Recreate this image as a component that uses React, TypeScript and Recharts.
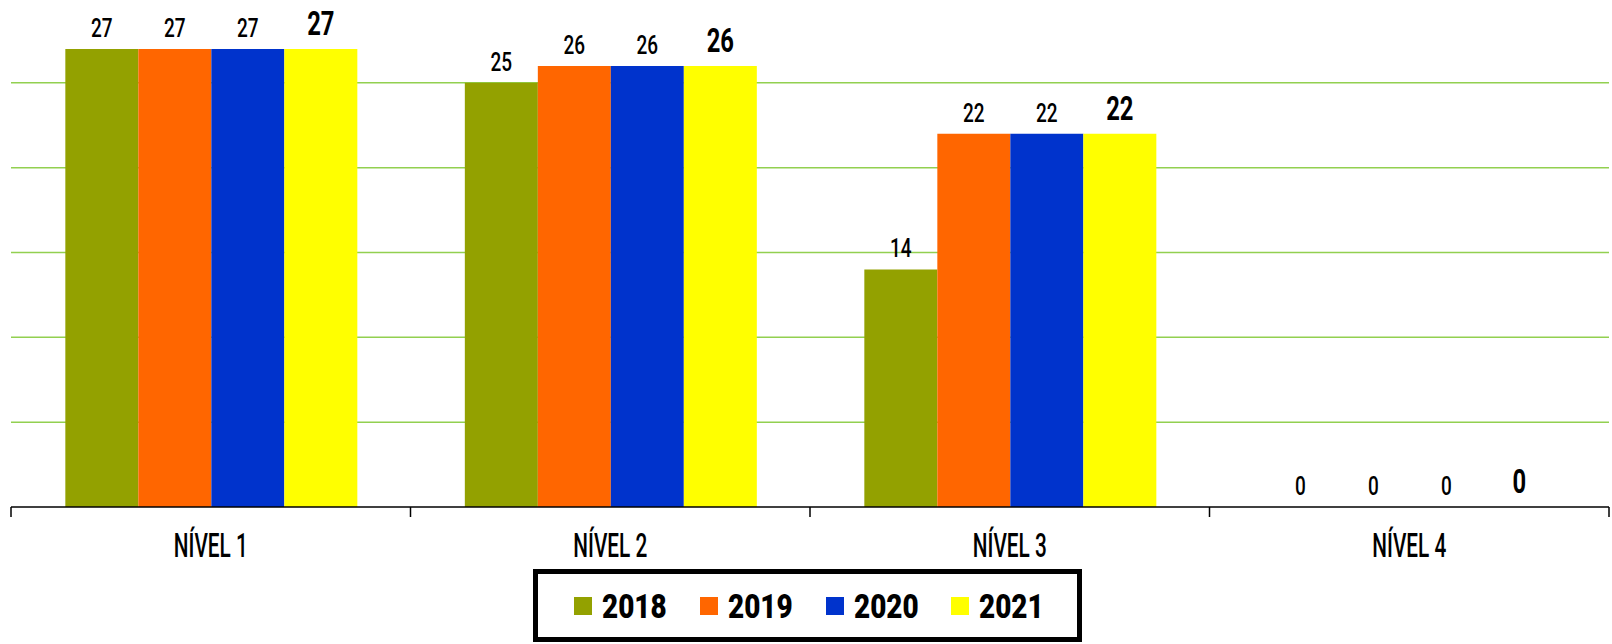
import React from 'react';
import { BarChart, Bar, XAxis, YAxis, CartesianGrid, Legend, LabelList } from 'recharts';

const levels = ['NÍVEL 1', 'NÍVEL 2', 'NÍVEL 3', 'NÍVEL 4'];
const v2018 = [27, 25, 14, 0];
const v2019 = [27, 26, 22, 0];
const v2020 = [27, 26, 22, 0];
const v2021 = [27, 26, 22, 0];
const gridTicks = [0, 5, 10, 15, 20, 25];

const series = [
  { key: 'y2018', name: '2018', color: '#93A100' },
  { key: 'y2019', name: '2019', color: '#FF6600' },
  { key: 'y2020', name: '2020', color: '#0033CC' },
  { key: 'y2021', name: '2021', color: '#FFFF00' },
];

const data = levels.map((level, i) => ({
  level,
  y2018: v2018[i],
  y2019: v2019[i],
  y2020: v2020[i],
  y2021: v2021[i],
}));

// no condensed font installed, so text is squeezed horizontally
const FONT = 'Roboto, "Liberation Sans", sans-serif';
const W = 1612;
const H = 644;
const M = { top: 15, right: 3, bottom: 2, left: 11 };
const HALF_BAND = (W - M.left - M.right) / levels.length / 2;

const LevelTick = (props: any) => {
  const { x, y, payload, index } = props;
  return (
    <g>
      <line x1={x - HALF_BAND} y1={y} x2={x - HALF_BAND} y2={y + 10} stroke="#000" strokeWidth={1.5} />
      {index === levels.length - 1 && (
        <line x1={x + HALF_BAND} y1={y} x2={x + HALF_BAND} y2={y + 10} stroke="#000" strokeWidth={1.5} />
      )}
      <g transform={`translate(${x},${y + 50}) scale(0.63,1)`}>
        <text x={0} y={0} textAnchor="middle" fontFamily={FONT} fontSize={33} fontWeight={500} fill="#000">
          {payload.value}
        </text>
      </g>
    </g>
  );
};

const valueLabel = (big: boolean) => (props: any) => {
  const { x, y, width, value } = props;
  const cx = x + width / 2;
  const by = y - (big ? 13.5 : 12);
  return (
    <g transform={`translate(${cx},${by}) scale(${big ? 0.7 : 0.76},1)`}>
      <text
        x={0}
        y={0}
        textAnchor="middle"
        fontFamily={FONT}
        fontSize={big ? 34 : 25}
        fontWeight={big ? 700 : 500}
        fill="#000"
      >
        {value}
      </text>
    </g>
  );
};

const LegendBox = () => (
  <div
    style={{
      boxSizing: 'border-box',
      width: 549,
      height: 73,
      border: '5px solid #000',
      display: 'flex',
      alignItems: 'center',
      paddingLeft: 36,
      fontFamily: FONT,
    }}
  >
    {series.map(s => (
      <div key={s.key} style={{ display: 'flex', alignItems: 'center', width: 129 }}>
        <span style={{ width: 18, height: 18, background: s.color, display: 'inline-block', marginRight: 10 }} />
        <span
          style={{
            display: 'inline-block',
            fontSize: 34,
            fontWeight: 900,
            color: '#000',
            lineHeight: 1,
            transform: 'scaleX(0.82)',
            transformOrigin: 'left center',
          }}
        >
          {s.name}
        </span>
      </div>
    ))}
  </div>
);

export default function App() {
  return (
    <div style={{ position: 'absolute', left: 0, top: 0, width: W, height: H, background: '#fff' }}>
      <BarChart width={W} height={H} data={data} margin={M} barGap={0} barCategoryGap="13.6%">
        <CartesianGrid vertical={false} stroke="#92D050" strokeWidth={1.5} horizontalValues={[5, 10, 15, 20, 25]} />
        <YAxis hide domain={[0, 29]} ticks={gridTicks} />
        <XAxis
          dataKey="level"
          height={62}
          tickLine={false}
          tickSize={0}
          tickMargin={0}
          axisLine={{ stroke: '#000', strokeWidth: 1.5 }}
          tick={<LevelTick />}
          interval={0}
        />
        <Legend
          verticalAlign="bottom"
          content={<LegendBox />}
          wrapperStyle={{ left: 533, width: 549, height: 73 }}
        />
        {series.map((s, i) => (
          <Bar
            key={s.key}
            dataKey={s.key}
            name={s.name}
            fill={s.color}
            minPointSize={0.01}
            isAnimationActive={false}
          >
            <LabelList dataKey={s.key} content={valueLabel(i === 3)} />
          </Bar>
        ))}
      </BarChart>
    </div>
  );
}
